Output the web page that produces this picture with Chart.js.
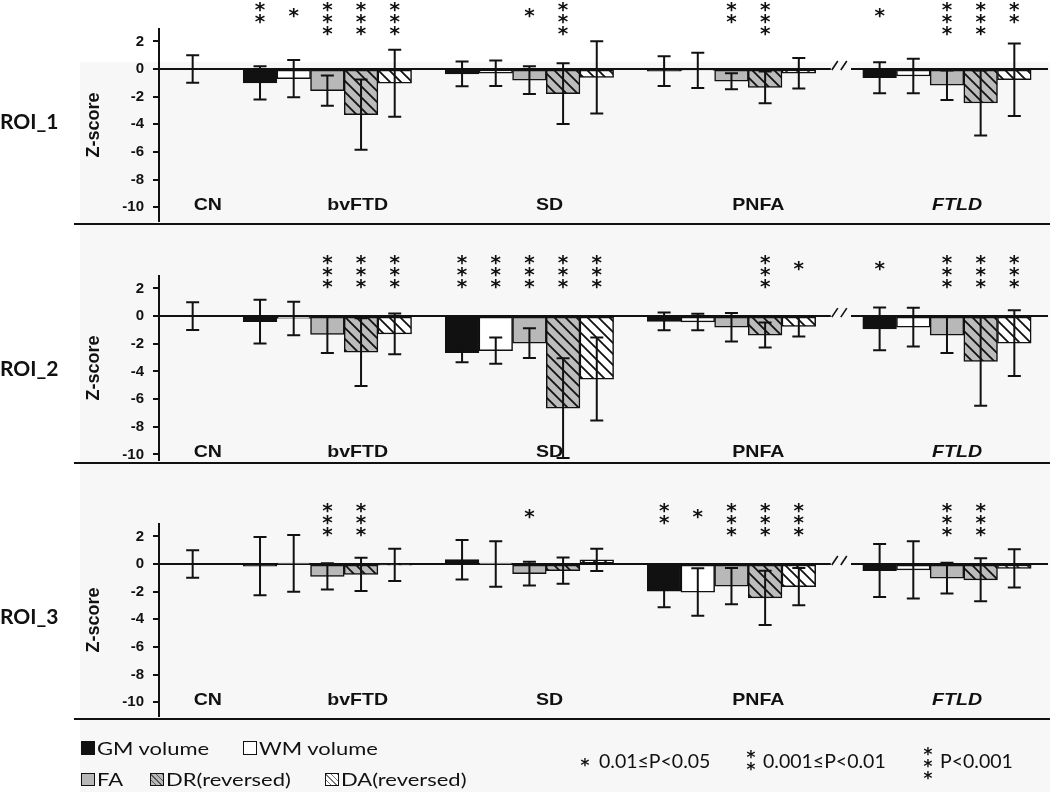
<!DOCTYPE html>
<html>
<head>
<meta charset="utf-8">
<title>Z-scores by ROI</title>
<script src="https://cdn.jsdelivr.net/npm/chart.js@4.4.0/dist/chart.umd.min.js"></script>
<style>
  body { margin: 0; background: #fff; }
  #page { position: relative; width: 1050px; height: 792px; overflow: hidden; background: #fff; }
  #shade { position: absolute; left: 80px; top: 62px; right: 0; bottom: 0; background: #f7f7f7; }
  .panel { position: absolute; left: 0; }
  .sw { position: absolute; box-sizing: border-box; border: 1.5px solid #111; }
  .lt { position: absolute; font-family: Lato, sans-serif; font-size: 18px; color: #111; white-space: nowrap; transform-origin: left center; transform: scaleX(1.22); line-height: 18px; }
  .pt { position: absolute; font-family: Lato, sans-serif; font-size: 19.5px; color: #111; white-space: nowrap; line-height: 18px; }
  .st { position: absolute; font-family: "DejaVu Sans", sans-serif; font-weight: bold; font-size: 17px; line-height: 12px; color: #111; text-align: center; width: 10px; }
</style>
</head>
<body>
<div id="page">
  <div id="shade"></div>
  <div class="panel" style="top:0px"><canvas id="roi1" width="1050" height="248"></canvas></div>
  <div class="panel" style="top:247px"><canvas id="roi2" width="1050" height="248"></canvas></div>
  <div class="panel" style="top:495px"><canvas id="roi3" width="1050" height="248"></canvas></div>

  <!-- legend: measures -->
  <div class="sw" style="left:81px;top:741px;width:14px;height:14px;background:#111"></div>
  <div class="lt" style="left:97px;top:739px">GM volume</div>
  <div class="sw" style="left:243px;top:741px;width:14px;height:14px;background:#fff"></div>
  <div class="lt" style="left:259px;top:739px">WM volume</div>
  <div class="sw" style="left:81px;top:773px;width:14px;height:13px;background:#b8b8b8"></div>
  <div class="lt" style="left:97px;top:770px">FA</div>
  <div class="sw" style="left:150px;top:773px;width:14px;height:13px;background:repeating-linear-gradient(45deg,#b8b8b8 0 3px,#555 3px 4px)"></div>
  <div class="lt" style="left:166px;top:770px">DR(reversed)</div>
  <div class="sw" style="left:325px;top:773px;width:14px;height:13px;background:repeating-linear-gradient(45deg,#fff 0 3px,#777 3px 4px)"></div>
  <div class="lt" style="left:341px;top:770px">DA(reversed)</div>

  <!-- legend: significance -->
  <div class="st" style="left:580px;top:759px">*</div>
  <div class="pt" style="left:599px;top:752px">0.01≤P&lt;0.05</div>
  <div class="st" style="left:746px;top:751px">*</div>
  <div class="st" style="left:746px;top:763px">*</div>
  <div class="pt" style="left:763px;top:752px">0.001≤P&lt;0.01</div>
  <div class="st" style="left:923px;top:748px">*</div>
  <div class="st" style="left:923px;top:760px">*</div>
  <div class="st" style="left:923px;top:772px">*</div>
  <div class="pt" style="left:940px;top:752px">P&lt;0.001</div>
</div>

<script>
// ---- data ----
const groups = ['CN', 'bvFTD', 'SD', 'PNFA', 'FTLD'];
const patientGroups = ['bvFTD', 'SD', 'PNFA', 'FTLD'];
const measures = ['GM volume', 'WM volume', 'FA', 'DR(reversed)', 'DA(reversed)'];
const yTicks = [2, 0, -2, -4, -6, -8, -10];

// controls are the reference: z = 0 +/- 1
const cnMean = 0;
const cnErr = 1;

// rows = measures (GM, WM, FA, DR, DA), columns = bvFTD, SD, PNFA, FTLD
const roi1Mean = [
  [-1.00, -0.35, -0.15, -0.63],
  [-0.70, -0.30, -0.10, -0.50],
  [-1.56, -0.80, -0.88, -1.17],
  [-3.30, -1.78, -1.33, -2.46],
  [-1.03, -0.60, -0.30, -0.77]
];
const roi1Err = [
  [1.20, 0.90, 1.07, 1.13],
  [1.35, 0.92, 1.28, 1.25],
  [1.10, 1.00, 0.58, 1.07],
  [2.55, 2.20, 1.15, 2.35],
  [2.42, 2.62, 1.10, 2.62]
];
const roi1Stars = [
  [2, 0, 0, 1],
  [1, 0, 0, 0],
  [3, 1, 2, 3],
  [3, 3, 3, 3],
  [3, 0, 0, 2]
];

const roi2Mean = [
  [-0.40, -2.65, -0.38, -0.92],
  [-0.17, -2.50, -0.42, -0.80],
  [-1.33, -1.95, -0.80, -1.37],
  [-2.60, -6.65, -1.37, -3.28],
  [-1.28, -4.55, -0.75, -1.95]
];
const roi2Err = [
  [1.58, 0.68, 0.64, 1.55],
  [1.21, 0.95, 0.60, 1.40],
  [1.33, 1.07, 1.03, 1.30],
  [2.45, 3.60, 0.90, 3.20],
  [1.47, 3.00, 0.72, 2.37]
];
const roi2Stars = [
  [0, 3, 0, 1],
  [0, 3, 0, 0],
  [3, 3, 0, 3],
  [3, 3, 3, 3],
  [3, 3, 1, 3]
];

const roi3Mean = [
  [-0.15, 0.32, -1.96, -0.47],
  [0.05, 0.01, -2.03, -0.42],
  [-0.90, -0.70, -1.60, -1.02],
  [-0.75, -0.48, -2.45, -1.14],
  [-0.06, 0.30, -1.64, -0.31]
];
const roi3Err = [
  [2.10, 1.43, 1.17, 1.92],
  [2.05, 1.65, 1.72, 2.08],
  [0.95, 0.86, 1.31, 1.12],
  [1.20, 0.95, 1.96, 1.56],
  [1.16, 0.80, 1.35, 1.38]
];
const roi3Stars = [
  [0, 0, 2, 0],
  [0, 0, 1, 0],
  [3, 1, 3, 3],
  [3, 0, 3, 3],
  [0, 0, 3, 0]
];

// ---- layout helpers ----
const xMin = -1, xMax = 25.4;
const plotLeft = 159, plotRight = 1048;
const slotPx = (plotRight - plotLeft) / (xMax - xMin);
const pxPerUnit = 13.83;
const yMax = 2.9;
const padTop = 29;
const breakSlot = 19.25;

// slot index of a bar: CN sits alone at 0, then 5 bars per group with one empty slot between,
// FTLD shifted a bit further right after the axis break
function slotOf(gi, m) {
  return 2 + gi * 6 + m + (gi === 3 ? 0.4 : 0);
}

function hatch(bg) {
  const c = document.createElement('canvas');
  c.width = 11; c.height = 11;
  const g = c.getContext('2d');
  g.fillStyle = bg;
  g.fillRect(0, 0, 11, 11);
  g.strokeStyle = '#111';
  g.lineWidth = 1.8;
  g.beginPath();
  g.moveTo(-3, -3); g.lineTo(14, 14);
  g.moveTo(8, -3); g.lineTo(14, 3);
  g.moveTo(-3, 8); g.lineTo(3, 14);
  g.stroke();
  return g.createPattern(c, 'repeat');
}

const fills = ['#111111', '#ffffff', '#b8b8b8', hatch('#bcbcbc'), hatch('#ffffff')];

// --- decorations: zero line with break, error bars, stars, labels ---
const roiDecor = {
  id: 'roiDecor',
  beforeDatasetsDraw(chart, args, opts) {
    const { ctx, chartArea } = chart;
    const xs = chart.scales.x, ys = chart.scales.y;
    const y0 = ys.getPixelForValue(0);
    const bx1 = xs.getPixelForValue(breakSlot - 0.3);
    const bx2 = xs.getPixelForValue(breakSlot + 0.3);
    ctx.save();
    ctx.strokeStyle = '#111';
    ctx.lineWidth = 2;
    ctx.beginPath();
    ctx.moveTo(chartArea.left, y0); ctx.lineTo(bx1, y0);
    ctx.moveTo(bx2, y0); ctx.lineTo(chartArea.right, y0);
    ctx.stroke();
    // the "//" break mark
    ctx.lineWidth = 1.6;
    ctx.beginPath();
    ctx.moveTo(bx1 + 1, y0 + 1); ctx.lineTo(bx1 + 7, y0 - 8);
    ctx.moveTo(bx1 + 10, y0 + 1); ctx.lineTo(bx1 + 16, y0 - 8);
    ctx.stroke();
    ctx.restore();
  },
  afterDatasetsDraw(chart, args, opts) {
    const { ctx, chartArea } = chart;
    const xs = chart.scales.x, ys = chart.scales.y;
    const y0 = ys.getPixelForValue(0);
    ctx.save();
    ctx.strokeStyle = '#111';
    ctx.fillStyle = '#111';
    ctx.lineWidth = 2;

    const errBar = (slot, mean, err) => {
      const x = xs.getPixelForValue(slot);
      const t = ys.getPixelForValue(mean + err);
      const b = ys.getPixelForValue(mean - err);
      ctx.beginPath();
      ctx.moveTo(x, t); ctx.lineTo(x, b);
      ctx.moveTo(x - 6.5, t); ctx.lineTo(x + 6.5, t);
      ctx.moveTo(x - 6.5, b); ctx.lineTo(x + 6.5, b);
      ctx.stroke();
    };
    errBar(0, cnMean, cnErr);
    opts.mean.forEach((row, m) => row.forEach((v, gi) => errBar(slotOf(gi, m), v, opts.err[m][gi])));

    // significance stars
    ctx.font = 'bold 20px "DejaVu Sans", sans-serif';
    ctx.textAlign = 'center';
    ctx.textBaseline = 'alphabetic';
    const top = y0 - opts.starTop;
    opts.stars.forEach((row, m) => row.forEach((n, gi) => {
      if (!n) return;
      const x = xs.getPixelForValue(slotOf(gi, m));
      const rows = n === 1 ? [6] : Array.from({ length: n }, (_, i) => i * 12);
      rows.forEach(dy => ctx.fillText('*', x, top + dy + 11));
    }));

    // group labels near the -10 line
    ctx.textBaseline = 'middle';
    const ly = ys.getPixelForValue(-9.85);
    groups.forEach((g, i) => {
      const c = i === 0 ? 0 : slotOf(i - 1, 2);
      const x = xs.getPixelForValue(c + opts.labelShift[i]);
      ctx.save();
      ctx.translate(x, ly);
      ctx.scale(1.15, 1);
      ctx.font = (g === 'FTLD' ? 'italic ' : '') + 'bold 17px "Liberation Sans", Arial, sans-serif';
      ctx.fillText(g, 0, 0);
      ctx.restore();
    });

    // y title
    ctx.save();
    ctx.translate(94, (chartArea.top + chartArea.bottom) / 2);
    ctx.rotate(-Math.PI / 2);
    ctx.font = 'bold 18px "Liberation Sans", Arial, sans-serif';
    ctx.fillText('Z-score', 0, 0);
    ctx.restore();

    // ROI name
    ctx.textAlign = 'left';
    ctx.font = 'bold 21px Lato, sans-serif';
    ctx.fillText(opts.name, 0, y0 + 53);

    // separator under the panel
    ctx.lineWidth = 2;
    ctx.beginPath();
    ctx.moveTo(74, chartArea.bottom + 3);
    ctx.lineTo(chart.width, chartArea.bottom + 3);
    ctx.stroke();
    ctx.restore();
  }
};

function makeChart(id, name, mean, err, stars, yMin, starTop) {
  const chartH = Math.round((yMax - yMin) * pxPerUnit);
  const datasets = measures.map((label, m) => ({
    label: label,
    data: patientGroups.map((g, gi) => ({ x: slotOf(gi, m), y: mean[m][gi] })),
    backgroundColor: fills[m],
    borderColor: '#111',
    borderWidth: 1.5,
    borderSkipped: false,
    grouped: false,
    barThickness: slotPx
  }));

  return new Chart(document.getElementById(id), {
    type: 'bar',
    data: { datasets },
    options: {
      responsive: false,
      animation: false,
      events: [],
      layout: { padding: { top: padTop, bottom: 248 - padTop - chartH, left: 0, right: 1050 - plotRight } },
      plugins: {
        legend: { display: false },
        tooltip: { enabled: false },
        roiDecor: {
          name, mean, err, stars, starTop,
          labelShift: [0.45, 0.9, 0.6, 0.8, 0.3]
        }
      },
      scales: {
        x: {
          type: 'linear',
          min: xMin,
          max: xMax,
          display: false,
          afterBuildTicks: s => { s.ticks = []; }
        },
        y: {
          min: yMin,
          max: yMax,
          afterBuildTicks: s => { s.ticks = yTicks.map(v => ({ value: v })); },
          afterFit: s => { s.width = plotLeft; },
          border: { display: true, color: '#111', width: 2 },
          grid: { drawOnChartArea: false, drawTicks: true, tickLength: 6, color: '#111', lineWidth: 2 },
          ticks: {
            color: '#111',
            padding: 9,
            font: { family: '"Liberation Sans", Arial, sans-serif', weight: 'bold', size: 15 }
          }
        }
      }
    },
    plugins: [roiDecor]
  });
}

makeChart('roi1', 'ROI_1', roi1Mean, roi1Err, roi1Stars, -11, 64);
makeChart('roi2', 'ROI_2', roi2Mean, roi2Err, roi2Stars, -10.4, 58);
makeChart('roi3', 'ROI_3', roi3Mean, roi3Err, roi3Stars, -11, 58);
</script>
</body>
</html>
